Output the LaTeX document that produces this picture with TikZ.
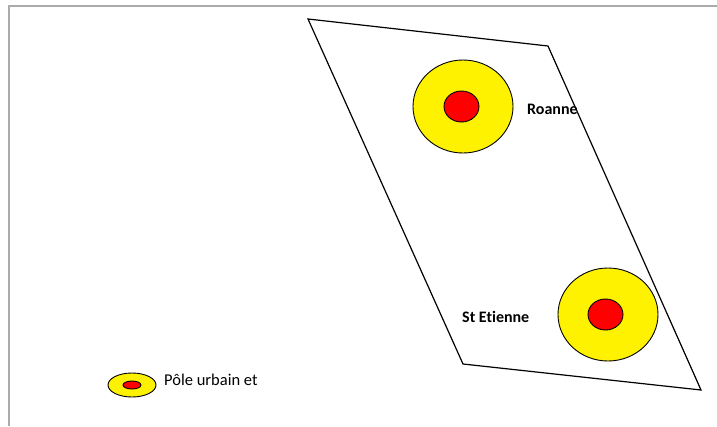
\documentclass[tikz,border=0pt]{standalone}
\usepackage{fontspec}
\setmainfont[Ligatures=CommonOff]{Carlito}
\usetikzlibrary{shapes.geometric}
\begin{document}
\begin{tikzpicture}[x=1pt,y=-1pt,
  outerring/.style={ellipse,draw=black,fill=yellow,line width=0.9pt,inner sep=0pt},
  innercore/.style={ellipse,draw=black,fill=red,line width=0.9pt,inner sep=0pt},
  citylabel/.style={font=\fontsize{16}{18}\selectfont\bfseries,inner sep=0pt,anchor=west},
  legendlabel/.style={font=\fontsize{16.5}{18}\selectfont,inner sep=0pt,anchor=west},
  frameline/.style={draw=black!33,line width=2pt},
  region/.style={draw=black,line width=1.2pt,line join=miter}]
\useasboundingbox (0,0) rectangle (717,426);
% frame
\coordinate (f1) at (9,426);
\coordinate (f2) at (9,6);
\coordinate (f3) at (717,6);
\draw[frameline] (f1) -- (f2) -- (f3);
% region
\coordinate (p1) at (308,19);
\coordinate (p2) at (548,46);
\coordinate (p3) at (701,390);
\coordinate (p4) at (463,364);
\draw[region] (p1) -- (p2) -- (p3) -- (p4) -- cycle;
% Roanne
\node[outerring,minimum width=100pt,minimum height=93pt] (ro) at (463,106.5) {};
\node[innercore,minimum width=35pt,minimum height=31pt] (ri) at (461.5,106.5) {};
\node[citylabel] (rl) at (527,109) {Roanne};
% St Etienne
\node[outerring,minimum width=100pt,minimum height=93pt] (so) at (608,314.5) {};
\node[innercore,minimum width=35pt,minimum height=31pt] (si) at (605.5,314.5) {};
\node[citylabel] (sl) at (462,317) {St Etienne};
% legend
\node[outerring,minimum width=48pt,minimum height=24pt] (lo) at (132,385) {};
\node[innercore,minimum width=18pt,minimum height=8pt] (li) at (132,385) {};
\node[legendlabel] (ll) at (164,379.5) {Pôle urbain et};
\end{tikzpicture}
\end{document}
